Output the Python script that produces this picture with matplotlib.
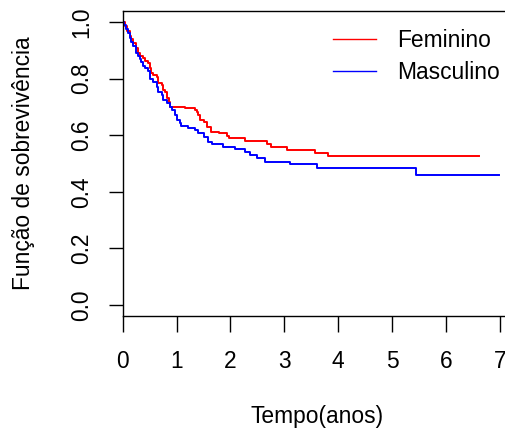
import numpy as np
import matplotlib
matplotlib.use("Agg")
import matplotlib.pyplot as plt

plt.rcParams['font.family'] = ['Liberation Sans', 'DejaVu Sans']

# Kaplan-Meier estimates (event times in years, survival after event)
fem_times = [0.0, 0.04, 0.085, 0.13, 0.16, 0.19, 0.25, 0.28, 0.315, 0.377, 0.41, 0.47, 0.50,
             0.53, 0.57, 0.64, 0.66, 0.72, 0.74, 0.78, 0.82, 0.85, 0.88, 1.16, 1.34, 1.37,
             1.40, 1.43, 1.50, 1.56, 1.63, 1.79, 1.93, 1.98, 2.26, 2.67, 2.76, 3.04, 3.57,
             3.81, 6.61]
fem_surv = [1.0, 0.985, 0.968, 0.95, 0.939, 0.927, 0.909, 0.892, 0.88, 0.874, 0.862, 0.856, 0.838,
            0.82, 0.812, 0.805, 0.783, 0.778, 0.76, 0.752, 0.73, 0.718, 0.70, 0.695, 0.69, 0.683,
            0.671, 0.654, 0.645, 0.63, 0.612, 0.607, 0.597, 0.589, 0.58, 0.568, 0.557, 0.548, 0.538,
            0.527, 0.527]

masc_times = [0.0, 0.03, 0.067, 0.10, 0.13, 0.16, 0.19, 0.25, 0.28, 0.315, 0.34, 0.377, 0.42,
              0.47, 0.50, 0.51, 0.57, 0.63, 0.66, 0.72, 0.75, 0.82, 0.88, 0.91, 0.97, 1.0,
              1.06, 1.09, 1.22, 1.34, 1.40, 1.50, 1.59, 1.65, 1.86, 2.08, 2.26, 2.36, 2.49,
              2.64, 3.10, 3.60, 5.45, 6.98]
masc_surv = [1.0, 0.99, 0.974, 0.96, 0.945, 0.93, 0.915, 0.892, 0.88, 0.868, 0.857, 0.845, 0.837,
             0.827, 0.815, 0.80, 0.789, 0.771, 0.754, 0.742, 0.724, 0.713, 0.70, 0.689, 0.671, 0.654,
             0.644, 0.632, 0.624, 0.618, 0.607, 0.595, 0.577, 0.568, 0.56, 0.551, 0.542, 0.53, 0.518,
             0.506, 0.50, 0.485, 0.458, 0.458]

group_labels = ["Feminino", "Masculino"]
group_colors = ["#FF0000", "#0000FF"]
x_ticks = [0, 1, 2, 3, 4, 5, 6, 7]
y_ticks = [0.0, 0.2, 0.4, 0.6, 0.8, 1.0]

W, H = 505, 432
fs = 16.4
fig = plt.figure(figsize=(W / 100, H / 100), dpi=100)
left, right, top, bottom = 122.7, 512.0, 11.0, 316.0
ax = fig.add_axes([left / W, 1 - bottom / H, (right - left) / W, (bottom - top) / H])

for t, s, lab, col in zip([fem_times, masc_times], [fem_surv, masc_surv], group_labels, group_colors):
    ax.step(t, s, where='post', color=col, lw=1.4, label=lab)

ax.set_xlim(0, 7.223)
ax.set_ylim(-0.0389, 1.0389)
ax.set_xticks(x_ticks)
ax.set_xticklabels([str(v) for v in x_ticks])
ax.set_yticks(y_ticks)
ax.set_yticklabels([f"{v:.1f}" for v in y_ticks], rotation=90, va='center')

for sp in ax.spines.values():
    sp.set_linewidth(1.0)
    sp.set_color('black')

ax.tick_params(axis='x', length=11.3, width=1.0, pad=13, labelsize=fs, direction='out')
ax.tick_params(axis='y', length=10.3, width=1.0, pad=11, labelsize=fs, direction='out')

fig.text(317.5 / W, 1 - 416 / H, "Tempo(anos)", ha='center', va='center', fontsize=fs)
fig.text(24 / W, 1 - 163.5 / H, "Função de sobrevivência", ha='center', va='center',
         rotation=90, fontsize=fs)

leg = ax.legend(loc='upper left', bbox_to_anchor=(332.7 / W, 1 - 29 / H),
                bbox_transform=fig.transFigure, frameon=False, fontsize=fs,
                handlelength=1.9, handletextpad=0.95, labelspacing=0.38,
                borderpad=0, borderaxespad=0)
for line in leg.get_lines():
    line.set_linewidth(1.0)

fig.savefig("out.png", dpi=100)
